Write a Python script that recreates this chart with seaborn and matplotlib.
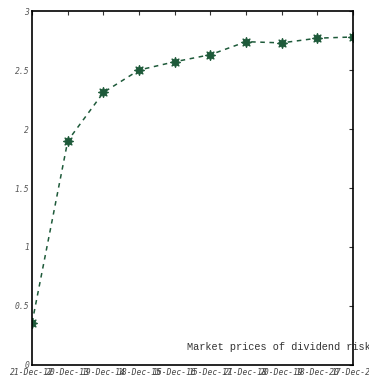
import matplotlib
matplotlib.use("Agg")
import matplotlib.pyplot as plt
import seaborn as sns
import pandas as pd

dates = ["21-Dec-12", "20-Dec-13", "19-Dec-14", "18-Dec-15", "16-Dec-16",
         "15-Dec-17", "21-Dec-18", "20-Dec-19", "18-Dec-20", "17-Dec-21"]
prices = [0.36, 1.90, 2.31, 2.50, 2.57, 2.63, 2.74, 2.73, 2.77, 2.78]
yticks = [0, 0.5, 1, 1.5, 2, 2.5, 3]
title_text = "Market prices of dividend risk"

sns.set_style("white")
plt.rcParams['font.family'] = ['DejaVu Sans']

df = pd.DataFrame({"idx": range(len(dates)), "price": prices})

fig = plt.figure(figsize=(3.69, 3.80), dpi=100)
ax = fig.add_axes([0.087, 0.0395, 0.870, 0.9315])

color = "#1e5a3a"
sns.lineplot(data=df, x="idx", y="price", ax=ax, color=color,
             linestyle=(0, (3, 3)), linewidth=1.1, marker=(8, 1, 0), markersize=7.5,
             markerfacecolor=color, markeredgecolor=color)

ax.set_xlim(0, len(dates) - 1)
ax.set_ylim(0, 3)
ax.set_xticks(range(len(dates)))
ax.set_xticklabels(dates, family="DejaVu Sans Mono", style="oblique", fontsize=5.8, color="#444444")
ax.set_yticks(yticks)
ax.set_yticklabels([f"{v:g}" for v in yticks], family="DejaVu Sans Mono", style="oblique", fontsize=5.8, color="#555555")
ax.tick_params(axis="both", direction="in", length=3, width=0.8, top=True, right=True, pad=2, color="#333333")
ax.set_xlabel("")
ax.set_ylabel("")
for s in ax.spines.values():
    s.set_visible(True)
    s.set_color("black")
    s.set_linewidth(1.2)

fig.text(0.507, 0.087, title_text, family="Liberation Mono", fontsize=7.4, color="#333333",
         ha="left", va="center")

fig.savefig("out.png", dpi=100)
